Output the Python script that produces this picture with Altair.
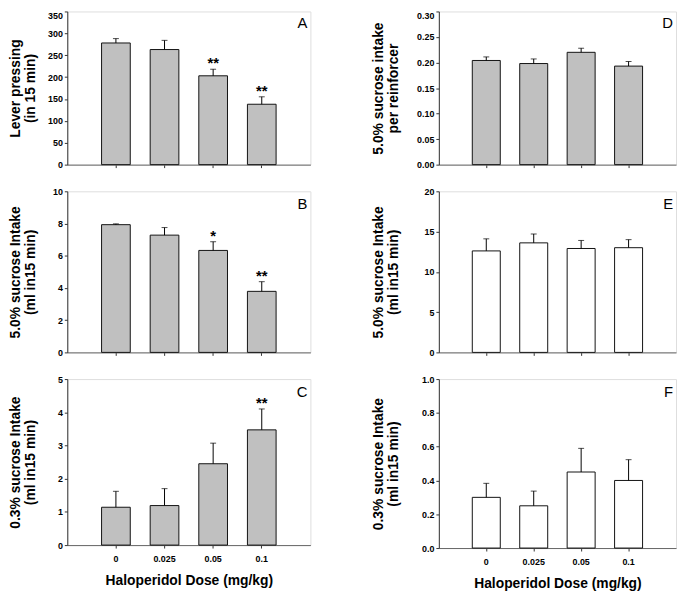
import altair as alt
import pandas as pd

FONT = "Liberation Sans"

doses = ["0", "0.025", "0.05", "0.1"]

a_mean = [278, 263, 203, 138]
a_err = [10, 21, 15, 17]
a_star = ["", "", "**", "**"]

b_mean = [7.93, 7.28, 6.33, 3.79]
b_err = [0.05, 0.47, 0.54, 0.60]
b_star = ["", "", "*", "**"]

c_mean = [1.14, 1.19, 2.45, 3.47]
c_err = [0.48, 0.51, 0.62, 0.63]
c_star = ["", "", "", "**"]

d_mean = [0.204, 0.198, 0.220, 0.193]
d_err = [0.007, 0.009, 0.008, 0.009]

e_mean = [12.6, 13.6, 12.9, 13.0]
e_err = [1.5, 1.1, 1.0, 1.0]

f_mean = [0.30, 0.25, 0.45, 0.40]
f_err = [0.083, 0.087, 0.14, 0.123]

no_star = ["", "", "", ""]

a_ticks = [0, 50, 100, 150, 200, 250, 300, 350]
b_ticks = [0, 2, 4, 6, 8, 10]
c_ticks = [0, 1, 2, 3, 4, 5]
d_ticks = [0, 0.05, 0.10, 0.15, 0.20, 0.25, 0.30]
e_ticks = [0, 5, 10, 15, 20]
f_ticks = [0, 0.2, 0.4, 0.6, 0.8, 1.0]

x_title = "Haloperidol Dose (mg/kg)"


def panel(mean, err, star, ticks, fmt, title, letter, fill, w, h, bottom, title_x, top_row):
    df = pd.DataFrame({
        "dose": doses,
        "mean": mean,
        "top": [m + e for m, e in zip(mean, err)],
        "star": star,
    })
    if bottom:
        xax = alt.Axis(labelAngle=0, labelFont=FONT, labelFontSize=9, labelFontWeight="bold",
                       labelColor="black", labelPadding=7, tickSize=3, tickColor="#333",
                       domainColor="#666", title=x_title, titleFont=FONT, titleFontSize=14,
                       titleFontWeight="bold", titleColor="black", titlePadding=10)
    else:
        xax = alt.Axis(labels=False, title=None, tickSize=3, tickColor="#333", domainColor="#666")
    ykw = {}
    if top_row:
        ykw["labelBaseline"] = {"condition": {"test": f"datum.value >= {ticks[-1]}", "value": "top"},
                                "value": "middle"}
    yax = alt.Axis(values=ticks, format=fmt, labelFont=FONT, labelFontSize=9, labelFontWeight="bold",
                   labelColor="black", labelPadding=2, tickSize=3, tickColor="#333",
                   domainColor="#333", grid=False, title=title, titleFont=FONT, titleFontSize=14,
                   titleFontWeight="bold", titleColor="black", titleAngle=270, titleAlign="center",
                   titleBaseline="top", titleX=title_x, titleY=h / 2, titleLineHeight=15, **ykw)
    xs = alt.Scale(paddingInner=0.41, paddingOuter=0.705)
    ys = alt.Scale(domain=[ticks[0], ticks[-1]], nice=False, zero=True)
    x = alt.X("dose:N", sort=doses, scale=xs, axis=xax)
    base = alt.Chart(df)
    bars = base.mark_bar(fill=fill, stroke="#111", strokeWidth=1).encode(
        x=x, y=alt.Y("mean:Q", scale=ys, axis=yax))
    rule = base.mark_rule(color="black", strokeWidth=1).encode(
        x=x, y=alt.Y("mean:Q", scale=ys, axis=yax), y2="top:Q")
    cap = base.mark_tick(orient="horizontal", size=6, thickness=1, color="black").encode(
        x=x, y=alt.Y("top:Q", scale=ys, axis=yax))
    stars = base.mark_text(font=FONT, fontSize=15, fontWeight="bold", baseline="alphabetic",
                           dy=-1, color="black").encode(
        x=x, y=alt.Y("top:Q", scale=ys, axis=yax), text="star:N")
    lab = alt.Chart(pd.DataFrame({"t": [letter]})).mark_text(
        font=FONT, fontSize=15, align="right", baseline="top", color="black").encode(
        x=alt.value(w - 3), y=alt.value(5 if top_row else 6), text="t:N")
    return alt.layer(bars, rule, cap, stars, lab).properties(width=w, height=h)


GRAY = "#c0c0c0"
WHITE = "#ffffff"
LW, RW = 246, 240

pA = panel(a_mean, a_err, a_star, a_ticks, "d", ["Lever pressing", "(in 15 min)"], "A", GRAY, LW, 155, False, -59, True)
pD = panel(d_mean, d_err, no_star, d_ticks, ".2f", ["5.0% sucrose intake", "per reinforcer"], "D", GRAY, RW, 155, False, -68, True)
pB = panel(b_mean, b_err, b_star, b_ticks, "d", ["5.0% sucrose Intake", "(ml in15 min)"], "B", GRAY, LW, 163, False, -59, False)
pE = panel(e_mean, e_err, no_star, e_ticks, "d", ["5.0% sucrose Intake", "(ml in15 min)"], "E", WHITE, RW, 163, False, -68, False)
pC = panel(c_mean, c_err, c_star, c_ticks, "d", ["0.3% sucrose Intake", "(ml in15 min)"], "C", GRAY, LW, 168, True, -59, False)
pF = panel(f_mean, f_err, no_star, f_ticks, ".1f", ["0.3% sucrose Intake", "(ml in15 min)"], "F", WHITE, RW, 171, True, -68, False)

chart = alt.concat(pA, pD, pB, pE, pC, pF, columns=2, spacing={"row": 27, "column": 130},
                   bounds="flush", align="each").properties(
    padding={"left": 0, "top": -1, "right": 0, "bottom": 0}
).configure_view(stroke="#888", strokeWidth=1).configure(background="white")

chart.save("out.html", embed_options={"renderer": "svg", "actions": False})
